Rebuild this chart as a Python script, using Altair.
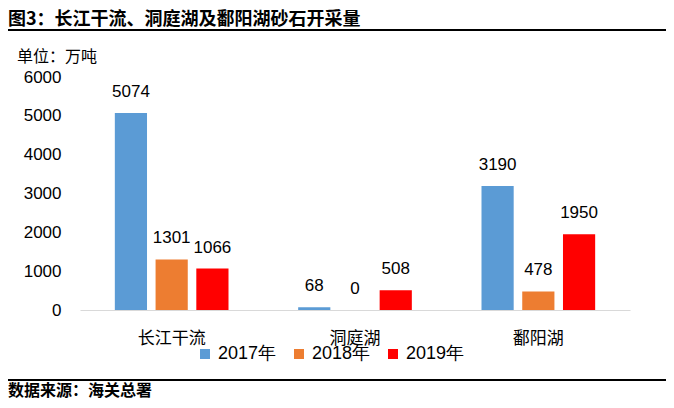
import altair as alt
import pandas as pd

categories = ["长江干流", "洞庭湖", "鄱阳湖"]
years = ["2017年", "2018年", "2019年"]
v2017 = [5074, 68, 3190]
v2018 = [1301, 0, 478]
v2019 = [1066, 508, 1950]
colors = ["#5B9BD5", "#ED7D31", "#FF0000"]
y_ticks = [0, 1000, 2000, 3000, 4000, 5000, 6000]

title_text = "图3：长江干流、洞庭湖及鄱阳湖砂石开采量"
unit_text = "单位：万吨"
source_text = "数据来源：海关总署"

rows = []
for i, c in enumerate(categories):
    for yr, vals in zip(years, [v2017, v2018, v2019]):
        rows.append({"cat": c, "year": yr, "value": vals[i]})
df = pd.DataFrame(rows)

CJK = "Noto Sans CJK SC"
NUM = "Liberation Sans"

x_enc = alt.X("cat:N", sort=categories,
              scale=alt.Scale(paddingInner=0.38, paddingOuter=0.19),
              axis=alt.Axis(title=None, labelAngle=0, ticks=False, domainColor="#D9D9D9",
                            domainWidth=1, labelPadding=20, labelFontSize=17,
                            labelFont=CJK, labelColor="#000000", labelFontWeight="normal"))
xo_enc = alt.XOffset("year:N", sort=years, scale=alt.Scale(paddingInner=0.21, paddingOuter=0))
y_enc = alt.Y("value:Q", scale=alt.Scale(domain=[0, 6000], nice=False),
              axis=alt.Axis(title=None, values=y_ticks, format="d", domain=False, ticks=False,
                            grid=False, labelPadding=19, labelFontSize=17, labelFont=NUM,
                            labelColor="#000000"))

bars = alt.Chart(df).mark_bar().encode(
    x=x_enc, xOffset=xo_enc, y=y_enc,
    color=alt.Color("year:N", sort=years, scale=alt.Scale(domain=years, range=colors),
                    legend=alt.Legend(title=None, orient="none", direction="horizontal",
                                      legendX=116, legendY=268, symbolType="square",
                                      symbolSize=100, symbolStrokeWidth=0,
                                      labelFontSize=18, labelFont=NUM, labelColor="#000000",
                                      columnPadding=13, labelOffset=4))
)

labels = alt.Chart(df).mark_text(baseline="bottom", dy=-12, fontSize=17, font=NUM,
                                 color="#000000").encode(
    x=x_enc, xOffset=xo_enc, y=y_enc, text=alt.Text("value:Q", format="d")
)

def note(text, x, y, size, weight="normal"):
    return alt.Chart(pd.DataFrame({"t": [text]})).mark_text(
        align="left", baseline="middle", fontSize=size, font=CJK, fontWeight=weight,
        color="#000000"
    ).encode(x=alt.value(x), y=alt.value(y), text="t:N")

title = note(title_text, -72, -57, 18, "bold")
unit = note(unit_text, -63, -20, 16)
source = note(source_text, -72, 314, 16, "bold")

rule_df = pd.DataFrame({"a": [0]})
top_rule = alt.Chart(rule_df).mark_rule(color="#000000", strokeWidth=2).encode(
    x=alt.value(-80), x2=alt.value(594), y=alt.value(-47))
bottom_rule = alt.Chart(rule_df).mark_rule(color="#000000", strokeWidth=2).encode(
    x=alt.value(-80), x2=alt.value(594), y=alt.value(303))

chart = alt.layer(bars, labels, title, unit, source, top_rule, bottom_rule).properties(
    width=550, height=233,
    autosize=alt.AutoSizeParams(type="none"),
    padding={"left": 72, "top": 69, "right": 36, "bottom": 90},
    background="#FFFFFF"
).configure_view(stroke=None)

chart.save("out.html", embed_options={"renderer": "svg", "actions": False})
